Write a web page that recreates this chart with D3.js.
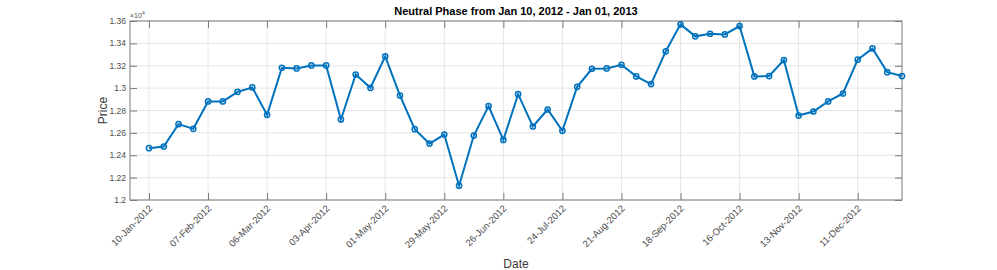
<!DOCTYPE html>
<html lang="en">
<head>
  <meta charset="UTF-8">
  <title>Neutral Phase</title>
  <style>
    body { margin: 0; background: #fff; font-family: "Liberation Sans", Arial, sans-serif; }
    svg { display: block; }
    .grid line { stroke: #e6e6e6; stroke-width: 1; }
    .tick-label { fill: #4d4d4d; font-size: 9.5px; }
    .ytick-label { fill: #4d4d4d; font-size: 8.5px; }
  </style>
</head>
<body>
<svg width="997" height="270"></svg>
<script src="https://d3js.org/d3.v7.min.js"></script>
<script>
  // weekly prices (x 10^4), Tuesdays from 10-Jan-2012 to 01-Jan-2013
  const startDate = "2012-01-10";
  const prices = [
    12463, 12478, 12678, 12636, 12881, 12881, 12967, 13006, 12761, 13182,
    13176, 13203, 13203, 12720, 13122, 13003, 13284, 12934, 12633, 12504,
    12585, 12128, 12576, 12839, 12537, 12946, 12657, 12809, 12618, 13012,
    13173, 13176, 13209, 13105, 13036, 13329, 13570, 13463, 13486, 13480,
    13555, 13105, 13108, 13251, 12755, 12791, 12881, 12952, 13254, 13355,
    13143, 13108
  ];
  const yTicks = [1.2, 1.22, 1.24, 1.26, 1.28, 1.3, 1.32, 1.34, 1.36];
  const xTickDates = ["2012-01-10", "2012-02-07", "2012-03-06", "2012-04-03", "2012-05-01",
    "2012-05-29", "2012-06-26", "2012-07-24", "2012-08-21", "2012-09-18", "2012-10-16",
    "2012-11-13", "2012-12-11"];
  const xDomain = ["2012-01-01", "2013-01-01"];

  const parse = d3.utcParse("%Y-%m-%d");
  const fmt = d3.utcFormat("%d-%b-%Y");
  const t0 = parse(startDate);
  const data = prices.map((p, i) => ({ date: d3.utcDay.offset(t0, i * 7), value: p / 1e4 }));

  const svg = d3.select("svg");
  const pLeft = 130, pRight = 902, pTop = 21, pBottom = 200;

  const x = d3.scaleUtc().domain(xDomain.map(parse)).range([pLeft, pRight]);
  const y = d3.scaleLinear().domain([1.2, 1.36]).range([pBottom, pTop]);
  const xTicks = xTickDates.map(parse);

  // grid
  const grid = svg.append("g").attr("class", "grid");
  grid.selectAll(".gx").data(xTicks).enter().append("line")
    .attr("x1", d => x(d)).attr("x2", d => x(d)).attr("y1", pTop).attr("y2", pBottom);
  grid.selectAll(".gy").data(yTicks).enter().append("line")
    .attr("x1", pLeft).attr("x2", pRight).attr("y1", d => y(d)).attr("y2", d => y(d));

  // axes with inward ticks on all four sides
  const axisColor = "#7a7a7a";
  const tickLen = 7;
  const styleAxis = g => {
    g.select(".domain").remove();
    g.selectAll(".tick line").attr("stroke", axisColor);
    g.selectAll(".tick text").remove();
  };
  svg.append("g").attr("transform", `translate(0,${pBottom})`)
    .call(d3.axisBottom(x).tickValues(xTicks).tickSize(-tickLen)).call(styleAxis);
  svg.append("g").attr("transform", `translate(0,${pTop})`)
    .call(d3.axisTop(x).tickValues(xTicks).tickSize(-tickLen)).call(styleAxis);
  svg.append("g").attr("transform", `translate(${pLeft},0)`)
    .call(d3.axisLeft(y).tickValues(yTicks).tickSize(-tickLen)).call(styleAxis);
  svg.append("g").attr("transform", `translate(${pRight},0)`)
    .call(d3.axisRight(y).tickValues(yTicks).tickSize(-tickLen)).call(styleAxis);

  svg.append("rect")
    .attr("x", pLeft).attr("y", pTop).attr("width", pRight - pLeft).attr("height", pBottom - pTop)
    .attr("fill", "none").attr("stroke", axisColor).attr("stroke-width", 1);

  // tick labels
  svg.selectAll(".ylab").data(yTicks).enter().append("text")
    .attr("class", "ytick-label")
    .attr("x", pLeft - 4).attr("y", d => y(d) + 3)
    .attr("text-anchor", "end")
    .text(d => d3.format("~g")(d));

  svg.selectAll(".xlab").data(xTicks).enter().append("text")
    .attr("class", "tick-label")
    .attr("text-anchor", "end")
    .attr("transform", d => `translate(${x(d) + 4},${pBottom + 9}) rotate(-45)`)
    .text(d => fmt(d));

  const expo = svg.append("text").attr("x", pLeft).attr("y", pTop - 3)
    .attr("fill", "#4d4d4d").style("font-size", "7px");
  expo.append("tspan").text("\u00d710");
  expo.append("tspan").attr("dy", -3).style("font-size", "5px").text("4");

  // line + markers
  const line = d3.line().x(d => x(d.date)).y(d => y(d.value));
  svg.append("path").datum(data)
    .attr("d", line).attr("fill", "none")
    .attr("stroke", "#0072BD").attr("stroke-width", 2);
  svg.selectAll(".pt").data(data).enter().append("circle")
    .attr("cx", d => x(d.date)).attr("cy", d => y(d.value)).attr("r", 2.6)
    .attr("fill", "none").attr("stroke", "#0072BD").attr("stroke-width", 1.5);

  // titles
  svg.append("text").attr("x", (pLeft + pRight) / 2).attr("y", 15)
    .attr("text-anchor", "middle").attr("fill", "#000")
    .style("font-size", "11px").style("font-weight", "bold")
    .text("Neutral Phase from Jan 10, 2012 - Jan 01, 2013");
  svg.append("text").attr("x", (pLeft + pRight) / 2).attr("y", 268)
    .attr("text-anchor", "middle").attr("fill", "#3a3a3a").style("font-size", "12px")
    .text("Date");
  svg.append("text").attr("transform", `translate(107,${(pTop + pBottom) / 2}) rotate(-90)`)
    .attr("text-anchor", "middle").attr("fill", "#3a3a3a").style("font-size", "12px")
    .text("Price");
</script>
</body>
</html>
